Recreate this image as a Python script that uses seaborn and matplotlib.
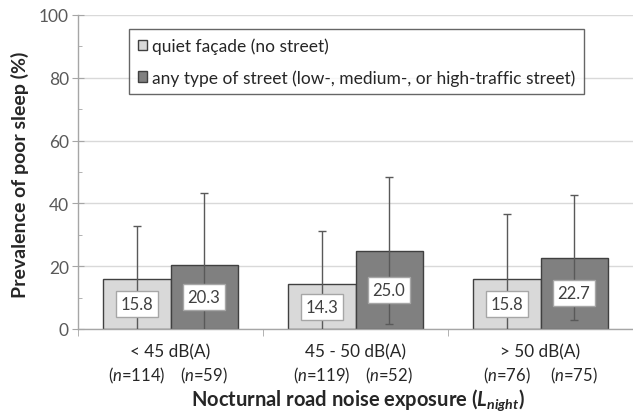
import matplotlib
matplotlib.use("Agg")
import matplotlib.pyplot as plt
import pandas as pd
import seaborn as sns

# data
categories = ["< 45 dB(A)", "45 - 50 dB(A)", "> 50 dB(A)"]
groups = ["quiet façade (no street)",
          "any type of street (low-, medium-, or high-traffic street)"]
quiet = [15.8, 14.3, 15.8]
street = [20.3, 25.0, 22.7]
quiet_err = [17.0, 16.9, 20.8]
street_err = [23.0, 23.4, 19.9]
n_quiet = [114, 119, 76]
n_street = [59, 52, 75]

sns.set_style("white")
plt.rcParams["font.family"] = ["Lato", "DejaVu Sans"]
plt.rcParams["mathtext.fontset"] = "custom"
plt.rcParams["mathtext.rm"] = "Lato"
plt.rcParams["mathtext.it"] = "Lato:italic"
plt.rcParams["mathtext.bf"] = "Lato:bold"
plt.rcParams["mathtext.bfit"] = "Lato:italic:bold"

df = pd.DataFrame({
    "exposure": categories * 2,
    "group": [groups[0]] * 3 + [groups[1]] * 3,
    "prev": quiet + street,
})

fig = plt.figure(figsize=(6.33, 4.14), dpi=100)
ax = fig.add_axes([78 / 633, 1 - 330 / 414, 555 / 633, 314 / 414])

sns.barplot(data=df, x="exposure", y="prev", hue="group", order=categories,
            hue_order=groups, palette=["#d9d9d9", "#808080"], width=0.725,
            edgecolor="#404040", linewidth=1, errorbar=None, ax=ax, zorder=2)

# error bars, value labels and n labels for each bar
for cont, vals, errs, ns in zip(ax.containers, [quiet, street],
                                [quiet_err, street_err], [n_quiet, n_street]):
    for bar, v, e, n in zip(cont, vals, errs, ns):
        cx = bar.get_x() + bar.get_width() / 2
        ax.errorbar(cx, v, yerr=e, color="#595959", lw=1, capsize=3,
                    capthick=1, zorder=3)
        ax.text(cx, v / 2, f"{v:.1f}", ha="center", va="center", fontsize=12,
                color="#404040", zorder=4,
                bbox=dict(boxstyle="square,pad=0.3", fc="white",
                          ec="#a6a6a6", lw=1))
        ax.text(cx, -0.146, f"($\\it{{n}}$={n})", ha="center", va="center",
                fontsize=12, color="#262626",
                transform=ax.get_xaxis_transform(), clip_on=False)

ax.set_xlim(-0.5, 2.5)
ax.set_ylim(0, 100)
ax.set_yticks(range(0, 101, 20))
ax.set_yticks(range(10, 100, 20), minor=True)
ax.set_xticks([-0.5, 0.5, 1.5, 2.5], minor=True)
ax.tick_params(axis="x", which="major", length=0, pad=10, labelsize=12.3,
               labelcolor="#262626")
ax.tick_params(axis="x", which="minor", length=5, direction="out",
               color="#a6a6a6", bottom=True)
ax.tick_params(axis="y", which="major", length=9, direction="inout",
               color="#a6a6a6", labelsize=12.5, labelcolor="#595959", pad=2,
               left=True)
ax.tick_params(axis="y", which="minor", length=3, direction="in",
               color="#a6a6a6", left=True)
ax.grid(axis="y", color="#d9d9d9", lw=1, zorder=0)
ax.set_axisbelow(True)

for side in ["top", "right"]:
    ax.spines[side].set_visible(False)
for side in ["left", "bottom"]:
    ax.spines[side].set_color("#a6a6a6")
    ax.spines[side].set_linewidth(1)

ax.set_ylabel("Prevalence of poor sleep (%)", fontsize=14, fontweight="bold")
ax.yaxis.set_label_coords(-0.088, 0.494)
ax.set_xlabel("Nocturnal road noise exposure ($\\mathbfit{L}_{\\mathbfit{night}}$)",
              fontsize=14.5, fontweight="bold")
ax.xaxis.set_label_coords(0.505, -0.183)

leg = ax.legend(loc="upper left", bbox_to_anchor=(0.092, 0.955),
                borderaxespad=0, fontsize=12.5, frameon=True, fancybox=False,
                edgecolor="#404040", handlelength=0.55, handleheight=0.55,
                handletextpad=0.3, labelspacing=0.85, borderpad=0.5,
                title=None)
leg.get_frame().set_linewidth(1)
for t in leg.get_texts():
    t.set_color("#262626")

fig.savefig("out.png", dpi=100)
